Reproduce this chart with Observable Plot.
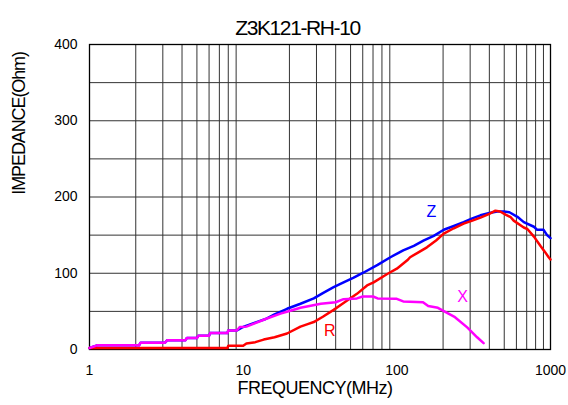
<!DOCTYPE html>
<html>
<head>
<meta charset="utf-8">
<script src="https://cdn.jsdelivr.net/npm/d3@7"></script>
<script src="https://cdn.jsdelivr.net/npm/@observablehq/plot@0.6"></script>
<style>
  html, body { margin: 0; padding: 0; background: #fff; }
  #chart svg { display: block; }
</style>
</head>
<body>
<div id="chart"></div>
<script>
const titleText = "Z3K121-RH-10";
const xLabelText = "FREQUENCY(MHz)";
const yLabelText = "IMPEDANCE(Ohm)";

const xTicks = [1, 10, 100, 1000];
const yTicks = [0, 100, 200, 300, 400];
const xGrid = [2,3,4,5,6,7,8,9,20,30,40,50,60,70,80,90,200,300,400,500,600,700,800,900];
const yGrid = [50,100,150,200,250,300,350];

// Z (blue)
const zFreq = [1, 1.12, 2.1, 2.15, 3.1, 3.2, 4.2, 4.3, 5.0, 5.1, 6.0, 6.1, 7.9, 8.0, 9.1, 10, 11.7, 14, 16, 19.3, 23.6, 28.8, 33, 38.8, 45, 52, 60.9, 75, 90.8, 110, 129, 150, 174, 202, 235, 272, 310, 350, 400, 450, 497, 540, 609, 670, 780, 819, 900, 950, 1000];
const zVal  = [2, 5.5, 5.5, 9, 9, 12, 12, 15, 15, 18, 18, 21.5, 21.5, 25, 25, 29.5, 34.5, 40, 46, 53.4, 60, 67, 74, 81.7, 88, 94, 101, 111, 121, 130, 136, 143, 149, 157, 162, 167, 172, 176, 179, 181, 181, 180, 174, 167, 161, 157, 157, 150, 146];

// R (red)
const rFreq = [1, 7.9, 8.0, 10, 10.5, 12, 13.6, 16, 19.3, 23.6, 26, 28.8, 33, 38.8, 45, 55, 64, 70.6, 86.6, 100, 116.9, 122, 140, 157, 180, 202, 235, 272, 310, 350, 400, 438, 470, 510, 551, 576, 670, 707, 780, 859, 920, 973, 1000];
const rVal  = [2, 2, 5, 5, 8, 9.6, 13, 16, 21, 30, 33, 36, 43, 52, 61, 73, 84, 88, 99, 106, 117, 121, 128, 134, 143, 152, 159, 165, 169, 173, 178, 182, 181, 177, 173.5, 169, 160, 158, 148, 136, 128, 121, 118];

// X (magenta)
const xFreq = [1, 1.12, 2.1, 2.15, 3.1, 3.2, 4.2, 4.3, 5.0, 5.1, 6.0, 6.1, 7.9, 8.0, 9.1, 9.5, 10.5, 12, 14, 17.5, 20, 23.6, 27, 32, 40, 45, 55, 60, 70, 75, 100, 110, 148, 160, 185, 208, 239, 287, 333, 367];
const xVal  = [2, 5.5, 5.5, 9, 9, 12, 12, 15, 15, 18, 18, 21.5, 21.5, 25, 25, 29.5, 30, 34.5, 40, 47, 50.5, 54.7, 57, 60, 62, 66, 67, 69.5, 69.5, 67, 66.5, 63, 62, 57, 54.7, 49, 42.4, 29, 16, 8.3];

const seriesNames = ["Z", "R", "X"];
const seriesColors = ["#0000ff", "#ff0000", "#ff00ff"];
const labelFreq = [168, 36.6, 268];
const labelVal = [180, 24.5, 68.6];

const toRows = (fs, vs) => fs.map((f, i) => ({f, v: vs[i]}));
const zRows = toRows(zFreq, zVal);
const rRows = toRows(rFreq, rVal);
const xRows = toRows(xFreq, xVal);
const labelRows = seriesNames.map((n, i) => ({n, f: labelFreq[i], v: labelVal[i], c: seriesColors[i]}));

const font = "Liberation Sans, Arial, sans-serif";

const chart = Plot.plot({
  width: 568,
  height: 405,
  marginLeft: 89,
  marginRight: 18,
  marginTop: 44,
  marginBottom: 56,
  style: {fontFamily: font, fontSize: "14px", color: "#000", background: "#fff"},
  x: {type: "log", domain: [1, 1000]},
  y: {domain: [0, 400]},
  marks: [
    Plot.ruleX(xGrid, {x: d => d, stroke: "#333", strokeWidth: 1}),
    Plot.ruleY(yGrid, {y: d => d, stroke: "#333", strokeWidth: 1}),
    Plot.frame({stroke: "#000", strokeWidth: 1.3}),
    Plot.axisX({ticks: xTicks, tickFormat: d => String(d), tickSize: 0, tickPadding: 16, fontSize: 14, label: null}),
    Plot.axisY({ticks: yTicks, tickFormat: d => String(d), tickSize: 0, tickPadding: 12, fontSize: 14, label: null}),
    Plot.line(zRows, {x: "f", y: "v", stroke: seriesColors[0], strokeWidth: 2.5}),
    Plot.line(rRows, {x: "f", y: "v", stroke: seriesColors[1], strokeWidth: 2.5}),
    Plot.line(xRows, {x: "f", y: "v", stroke: seriesColors[2], strokeWidth: 2.5}),
    Plot.text(labelRows, {x: "f", y: "v", text: "n", fill: "c", fontSize: 16}),
    Plot.text([titleText], {frameAnchor: "top", dx: -22.5, dy: -24, fontSize: 21, fill: "#000"}),
    Plot.text([xLabelText], {frameAnchor: "bottom", dx: -5, dy: 44.5, fontSize: 18, fill: "#000"}),
    Plot.text([yLabelText], {frameAnchor: "left", dx: -70.5, dy: -2.3, rotate: -90, fontSize: 18, fill: "#000"})
  ]
});

d3.select(chart).selectAll("text").each(function() {
  const t = d3.select(this).text();
  if (t === titleText) d3.select(this).style("letter-spacing", "-1.4px");
  if (t === xLabelText) d3.select(this).style("letter-spacing", "-0.5px");
  if (t === yLabelText) d3.select(this).style("letter-spacing", "-1.1px");
});

document.getElementById("chart").appendChild(chart);
</script>
</body>
</html>
